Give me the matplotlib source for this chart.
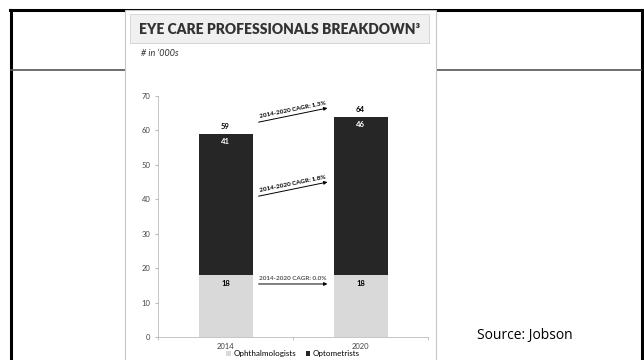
import matplotlib.pyplot as plt
from matplotlib.patches import Rectangle
from matplotlib.lines import Line2D

years = ['2014', '2020']
ophthalmologists = [18, 18]
optometrists = [41, 46]
totals = [59, 64]
cagr_labels = ['2014-2020 CAGR: 1.3%', '2014-2020 CAGR: 1.8%', '2014-2020 CAGR: 0.0%']
y_ticks = [0, 10, 20, 30, 40, 50, 60, 70]

W, H = 644, 360
LIGHT = '#d9d9d9'
DARK = '#262626'
FONT = 'Lato'


def fx(x):
    return x / W


def fy(y):
    return 1 - y / H


fig = plt.figure(figsize=(W / 100, H / 100), dpi=100)
fig.patch.set_facecolor('white')

# slide frame
fig.add_artist(Line2D([fx(11), fx(11)], [fy(9.5), fy(365)], color='black', lw=2.2))
fig.add_artist(Line2D([fx(641.5), fx(641.5)], [fy(9.5), fy(365)], color='black', lw=2.2))
fig.add_artist(Line2D([fx(10), fx(642.5)], [fy(9.5), fy(9.5)], color='black', lw=2.2))
fig.add_artist(Line2D([fx(11), fx(125)], [fy(70), fy(70)], color='#555555', lw=1.2))
fig.add_artist(Line2D([fx(436), fx(641)], [fy(70), fy(70)], color='#555555', lw=1.2))

# pasted chart image
fig.add_artist(Rectangle((fx(125), fy(365)), fx(436) - fx(125), fy(10) - fy(365),
                         transform=fig.transFigure, facecolor='white',
                         edgecolor='#c8c8c8', lw=0.8, zorder=2))
fig.add_artist(Rectangle((fx(131), fy(44)), fx(430) - fx(131), fy(15) - fy(44),
                         transform=fig.transFigure, facecolor='#cfcfcf',
                         edgecolor='none', zorder=2))
fig.add_artist(Rectangle((fx(130), fy(43)), fx(429) - fx(130), fy(14) - fy(43),
                         transform=fig.transFigure, facecolor='#f0f0f0',
                         edgecolor='#d4d4d4', lw=0.6, zorder=3))
fig.text(fx(280), fy(30), 'EYE CARE PROFESSIONALS BREAKDOWN\u00b3', ha='center', va='center',
         fontsize=10, fontweight='heavy', color='#333333', family=FONT, zorder=4)
fig.text(fx(141), fy(53), "# in \u2018000s", ha='left', va='center', fontsize=6.5,
         style='italic', color='#333333', family=FONT, zorder=4)

ax = fig.add_axes([fx(158), fy(337), fx(428) - fx(158), fy(96) - fy(337)])
ax.set_zorder(5)
ax.patch.set_alpha(0)
x = [0, 1]
ax.bar(x, ophthalmologists, width=0.4, color=LIGHT, label='Ophthalmologists')
ax.bar(x, optometrists, width=0.4, bottom=ophthalmologists, color=DARK, label='Optometrists')
ax.set_xlim(-0.5, 1.5)
ax.set_ylim(0, 70)
ax.set_yticks(y_ticks)
ax.set_xticks(x)
ax.set_xticklabels(years)
ax.set_xticks([-0.5, 0.5, 1.5], minor=True)
ax.tick_params(axis='x', which='major', length=0, pad=4)
ax.tick_params(axis='x', which='minor', length=2.5, color='#bbbbbb')
ax.tick_params(axis='y', length=2.5, color='#bbbbbb', pad=3)
for lab in ax.get_xticklabels() + ax.get_yticklabels():
    lab.set_fontsize(5.5)
    lab.set_color('#444444')
    lab.set_family(FONT)
for side in ['top', 'right']:
    ax.spines[side].set_visible(False)
for side in ['left', 'bottom']:
    ax.spines[side].set_color('#bbbbbb')
    ax.spines[side].set_linewidth(0.6)

for i in x:
    ax.text(i, totals[i] + 2.0, str(totals[i]), ha='center', va='center', fontsize=5.5,
            fontweight='bold', color='black', family=FONT)
    ax.text(i, totals[i] - 2.3, str(optometrists[i]), ha='center', va='center', fontsize=5.5,
            fontweight='bold', color='white', family=FONT)
    ax.text(i, ophthalmologists[i] - 2.5, str(ophthalmologists[i]), ha='center', va='center',
            fontsize=5.5, fontweight='bold', color='black', family=FONT)

# CAGR arrows
arrows = [((0.245, 62.4), (0.755, 66.5)),
          ((0.245, 40.9), (0.755, 45.0)),
          ((0.245, 15.4), (0.755, 15.4))]
colors = ['black', 'black', '#555555']
for (start, end), lab, col in zip(arrows, cagr_labels, colors):
    ax.annotate('', xy=end, xytext=start,
                arrowprops=dict(arrowstyle='-|>', color='black', lw=0.7,
                                mutation_scale=5, shrinkA=0, shrinkB=0))
    if start[1] == end[1]:
        ang = 0
    else:
        ang = 11.5
    mx = (start[0] + end[0]) / 2
    my = (start[1] + end[1]) / 2 + 1.6
    ax.text(mx, my, lab, ha='center', va='center', rotation=ang, fontsize=4.6,
            fontweight='bold', color=col, family=FONT, rotation_mode='anchor')

ax.legend(loc='upper center', bbox_to_anchor=(0.5, -0.035), ncol=2, frameon=False,
          handlelength=0.6, handleheight=0.6, handletextpad=0.3,
          columnspacing=1.2, borderpad=0.1, prop={'family': FONT, 'size': 5.8})

fig.text(fx(477), fy(336), 'Source: Jobson', ha='left', va='center', fontsize=10,
         color='black', family='Open Sans')

fig.savefig('out.png', dpi=100)
